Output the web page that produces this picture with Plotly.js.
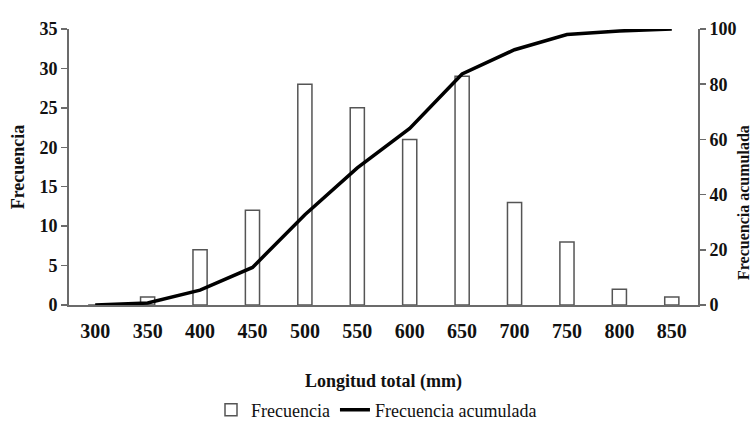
<!DOCTYPE html>
<html>
<head>
<meta charset="utf-8">
<script src="https://cdn.plot.ly/plotly-3.0.1.min.js"></script>
<style>html,body{margin:0;padding:0;background:#fff;}#chart{width:753px;height:421px;}</style>
</head>
<body>
<div id="chart"></div>
<script>
const categories = ["300","350","400","450","500","550","600","650","700","750","800","850"];
const frecuencia = [0, 1, 7, 12, 28, 25, 21, 29, 13, 8, 2, 1];
const acumulada = [0, 0.7, 5.4, 13.6, 32.7, 49.7, 64.0, 83.7, 92.5, 98.0, 99.3, 100];

const font = "Liberation Serif, Times New Roman, serif";
const axisColor = "#6b6b6b";

const traces = [
  {
    type: "bar", name: "Frecuencia", x: categories, y: frecuencia,
    width: 0.27,
    marker: {color: "#ffffff", line: {color: "#555555", width: 1.5}},
    yaxis: "y"
  },
  {
    type: "scatter", mode: "lines", name: "Frecuencia acumulada",
    x: categories, y: acumulada,
    line: {color: "#000000", width: 3.5},
    yaxis: "y2"
  }
];

const layout = {
  width: 753, height: 421,
  margin: {l: 69, r: 55, t: 29, b: 116},
  paper_bgcolor: "#ffffff", plot_bgcolor: "#ffffff",
  font: {family: font, color: "#111", size: 18},
  showlegend: true,
  legend: {orientation: "h", x: 0.5, xanchor: "center", xref: "container",
           y: 0.026, yanchor: "middle", yref: "container",
           font: {family: font, size: 18, color: "#111"}, traceorder: "normal"},
  bargap: 0,
  xaxis: {
    type: "category", range: [-0.5, 11.5],
    showline: true, linecolor: axisColor, linewidth: 2,
    ticks: "", showgrid: false, zeroline: false, automargin: false,
    ticklabelstandoff: 7,
    tickfont: {family: font, size: 20, color: "#111", weight: "bold"},
    title: {text: "<b>Longitud total (mm)</b>", font: {family: font, size: 18, color: "#111"}, standoff: 33}
  },
  yaxis: {
    range: [0, 35], dtick: 5, automargin: false,
    showline: true, linecolor: axisColor, linewidth: 2,
    ticks: "outside", ticklen: 6, tickcolor: axisColor, tickwidth: 1.5,
    showgrid: false, zeroline: false,
    tickfont: {family: font, size: 18, color: "#111", weight: "bold"},
    title: {text: "<b>Frecuencia</b>", font: {family: font, size: 18, color: "#111"}, standoff: 10}
  },
  yaxis2: {
    overlaying: "y", side: "right", range: [0, 100], dtick: 20, automargin: false,
    showline: true, linecolor: axisColor, linewidth: 2,
    ticks: "outside", ticklen: 6, tickcolor: axisColor, tickwidth: 1.5,
    showgrid: false, zeroline: false,
    tickfont: {family: font, size: 18, color: "#111", weight: "bold"}
  },
  annotations: [{
    text: "<b>Frecuencia acumulada</b>", textangle: -90, showarrow: false,
    xref: "paper", yref: "paper", x: 1.0715, y: 0.373, xanchor: "center", yanchor: "middle",
    font: {family: font, size: 16, color: "#111"}
  }]
};

Plotly.newPlot("chart", traces, layout, {displayModeBar: false, staticPlot: true});
</script>
</body>
</html>
